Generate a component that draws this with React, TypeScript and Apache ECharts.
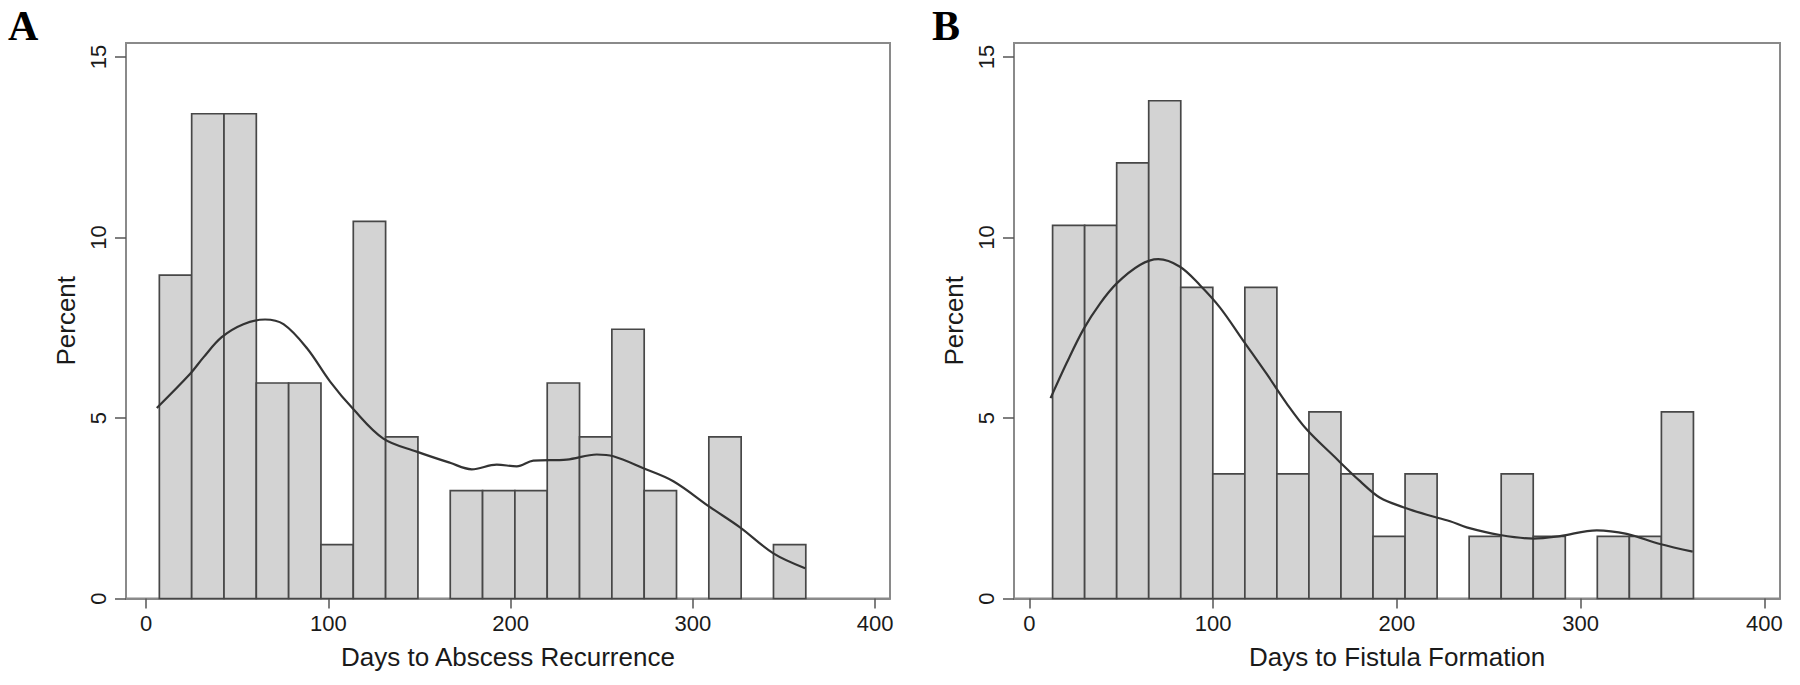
import React, { useEffect, useRef } from "react";
import * as echarts from "echarts";

// Panel A: Days to Abscess Recurrence (percent per bin, 20 bins)
const percentA = [8.96, 13.43, 13.43, 5.97, 5.97, 1.49, 10.45, 4.48, 0, 2.99, 2.99, 2.99, 5.97, 4.48, 7.46, 2.99, 0, 4.48, 0, 1.49];
const binStartA = 7.3;
const binWidthA = 17.735;
const densityXA = [5.9, 24.1, 31.5, 41.5, 53.4, 65.3, 75.4, 88.2, 101.0, 113.8, 130.2, 148.5, 166.8, 178.7, 192.4, 203.4, 212.5, 230.8, 247.3, 256.4, 272.9, 289.3, 309.5, 325.9, 344.2, 361.6];
const densityYA = [5.28, 6.22, 6.68, 7.24, 7.6, 7.73, 7.6, 6.94, 6.01, 5.24, 4.43, 4.07, 3.76, 3.58, 3.71, 3.66, 3.82, 3.85, 3.99, 3.94, 3.61, 3.25, 2.53, 1.97, 1.25, 0.84];

// Panel B: Days to Fistula Formation
const percentB = [10.34, 10.34, 12.07, 13.79, 8.62, 3.45, 8.62, 3.45, 5.17, 3.45, 1.72, 3.45, 0, 1.72, 3.45, 1.72, 0, 1.72, 1.72, 5.17];
const binStartB = 12.7;
const binWidthB = 17.435;
const densityXB = [11.6, 20.4, 29.4, 38.5, 47.6, 60.2, 70.2, 82.0, 92.9, 103.8, 116.5, 129.2, 140.1, 151.0, 165.4, 180.0, 190.9, 203.5, 216.3, 229.0, 238.0, 256.2, 274.3, 288.8, 308.8, 325.1, 343.2, 361.0];
const densityYB = [5.55, 6.53, 7.45, 8.17, 8.73, 9.24, 9.4, 9.19, 8.68, 8.06, 7.14, 6.22, 5.4, 4.68, 3.96, 3.25, 2.79, 2.53, 2.32, 2.14, 1.97, 1.76, 1.66, 1.73, 1.89, 1.79, 1.51, 1.3];

const xTicks = [0, 100, 200, 300, 400];
const yTicks = [0, 5, 10, 15];
const xTitles = ["Days to Abscess Recurrence", "Days to Fistula Formation"];
const panelLabels = ["A", "B"];

const FRAME = "#8a8a8a";
const SANS = "'Liberation Sans', Arial, Helvetica, sans-serif";

function makeBins(values: number[], start: number, width: number) {
  return values.map((v, i) => [start + i * width, start + (i + 1) * width, v]);
}

export default function App() {
  const ref = useRef<HTMLDivElement>(null);
  useEffect(() => {
    if (!ref.current) return;
    const chart = echarts.init(ref.current, undefined, { renderer: "svg" });

    const renderBar = (params: any, api: any) => {
      const v = api.value(2);
      if (!v) return null;
      const p0 = api.coord([api.value(0), v]);
      const p1 = api.coord([api.value(1), 0]);
      return {
        type: "rect",
        shape: { x: p0[0], y: p0[1], width: p1[0] - p0[0], height: p1[1] - p0[1] },
        style: { fill: "#d3d3d3", stroke: "#474747", lineWidth: 1.7 },
      };
    };

    const xAxisBase = (i: number, min: number, max: number) => ({
      type: "value",
      gridIndex: i,
      min,
      max,
      splitLine: { show: false },
      axisLine: { show: true, onZero: false, lineStyle: { color: FRAME, width: 2 } },
      axisTick: { show: true, length: 10, customValues: xTicks, lineStyle: { color: "#555", width: 1.5 } },
      axisLabel: { customValues: xTicks, fontSize: 22, margin: 14, color: "#1a1a1a", fontFamily: SANS },
      name: xTitles[i],
      nameLocation: "middle",
      nameGap: 45,
      nameTextStyle: { fontSize: 26, color: "#1a1a1a", fontFamily: SANS },
    });

    const yAxisBase = (i: number) => ({
      type: "value",
      gridIndex: i,
      min: 0,
      max: 15.39,
      splitLine: { show: false },
      axisLine: { show: true, onZero: false, lineStyle: { color: FRAME, width: 2 } },
      axisTick: { show: true, length: 11, customValues: yTicks, lineStyle: { color: "#555", width: 1.5 } },
      axisLabel: { customValues: yTicks, fontSize: 22, margin: 17, rotate: 90, color: "#1a1a1a", fontFamily: SANS },
      name: "Percent",
      nameLocation: "middle",
      nameRotate: 90,
      nameGap: 47,
      nameTextStyle: { fontSize: 26, color: "#1a1a1a", fontFamily: SANS },
    });

    const option: any = {
      animation: false,
      backgroundColor: "#ffffff",
      grid: [
        { left: 126, top: 43, width: 764, height: 555.5, show: true, borderColor: FRAME, borderWidth: 2 },
        { left: 1014, top: 43, width: 766, height: 555.5, show: true, borderColor: FRAME, borderWidth: 2 },
      ],
      xAxis: [xAxisBase(0, -11, 408.2), xAxisBase(1, -8.3, 408.5)],
      yAxis: [yAxisBase(0), yAxisBase(1)],
      series: [
        {
          type: "custom",
          xAxisIndex: 0,
          yAxisIndex: 0,
          renderItem: renderBar,
          encode: { x: [0, 1], y: 2 },
          data: makeBins(percentA, binStartA, binWidthA),
          z: 2,
        },
        {
          type: "line",
          xAxisIndex: 0,
          yAxisIndex: 0,
          symbol: "none",
          smooth: 0.35,
          lineStyle: { color: "#333333", width: 2.2 },
          data: densityXA.map((x, i) => [x, densityYA[i]]),
          z: 3,
        },
        {
          type: "custom",
          xAxisIndex: 1,
          yAxisIndex: 1,
          renderItem: renderBar,
          encode: { x: [0, 1], y: 2 },
          data: makeBins(percentB, binStartB, binWidthB),
          z: 2,
        },
        {
          type: "line",
          xAxisIndex: 1,
          yAxisIndex: 1,
          symbol: "none",
          smooth: 0.35,
          lineStyle: { color: "#333333", width: 2.2 },
          data: densityXB.map((x, i) => [x, densityYB[i]]),
          z: 3,
        },
      ],
      graphic: [
        {
          type: "text",
          left: 8,
          top: 5,
          style: { text: panelLabels[0], font: "bold 42px 'Liberation Serif', 'Times New Roman', serif", fill: "#000" },
        },
        {
          type: "text",
          left: 932,
          top: 5,
          style: { text: panelLabels[1], font: "bold 42px 'Liberation Serif', 'Times New Roman', serif", fill: "#000" },
        },
      ],
    };
    chart.setOption(option);
    return () => chart.dispose();
  }, []);

  return (
    <div
      ref={ref}
      style={{ position: "absolute", left: 0, top: 0, width: 1800, height: 685, background: "#fff" }}
    />
  );
}
